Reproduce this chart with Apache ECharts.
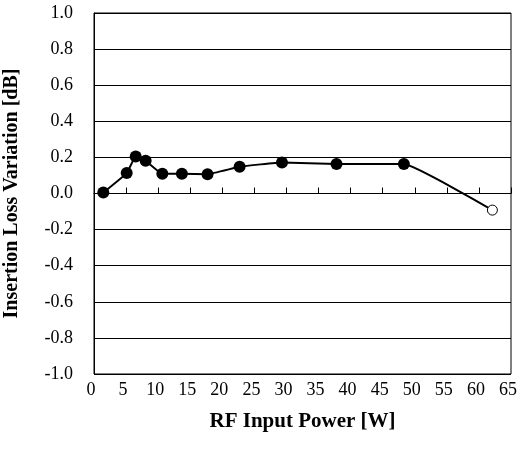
<!DOCTYPE html>
<html>
<head>
<meta charset="utf-8">
<script src="https://cdn.jsdelivr.net/npm/echarts@6/dist/echarts.min.js"></script>
<style>html,body{margin:0;padding:0;background:#fff;}#chart{width:520px;height:450px;}</style>
</head>
<body>
<div id="chart"></div>
<script>
var power = [1.45, 5.1, 6.5, 8.05, 10.65, 13.7, 17.7, 22.7, 29.3, 37.8, 48.3, 62.1];
var variation = [0.005, 0.113, 0.205, 0.181, 0.109, 0.11, 0.107, 0.148, 0.172, 0.163, 0.163, -0.092];
var openIndex = [11];
var xTitle = 'RF Input Power [W]';
var yTitle = 'Insertion Loss Variation [dB]';

var chart = echarts.init(document.getElementById('chart'));
var data = power.map(function (p, i) {
  var item = { value: [p, variation[i]] };
  if (openIndex.indexOf(i) >= 0) {
    item.itemStyle = { color: '#fff', borderColor: '#000', borderWidth: 1 };
    item.symbolSize = 10;
  }
  return item;
});
var font = '"Liberation Serif", "Times New Roman", serif';
chart.setOption({
  animation: false,
  backgroundColor: '#fff',
  grid: { left: 94, right: 9, top: 13, bottom: 76, show: true, borderColor: '#000', borderWidth: 1,
    containLabel: false, outerBoundsMode: 'none' },
  xAxis: {
    type: 'value', min: 0, max: 65, interval: 5,
    name: xTitle, nameLocation: 'middle', nameGap: 37,
    nameTextStyle: { fontFamily: font, fontWeight: 'bold', fontSize: 21, color: '#000' },
    axisLine: { show: true, lineStyle: { color: '#000', width: 1 } },
    axisTick: { show: true, inside: true, length: 6, lineStyle: { color: '#000' } },
    axisLabel: { color: '#000', fontFamily: font, fontSize: 18, margin: 7, padding: [0, 6, 0, 0] },
    splitLine: { show: false }
  },
  yAxis: {
    type: 'value', min: -1, max: 1, interval: 0.2,
    name: yTitle, nameLocation: 'middle', nameGap: 72,
    nameTextStyle: { fontFamily: font, fontWeight: 'bold', fontSize: 20, color: '#000' },
    axisLine: { show: true, lineStyle: { color: '#000', width: 1 } },
    axisTick: { show: false },
    axisLabel: { color: '#000', fontFamily: font, fontSize: 18, margin: 21,
      formatter: function (v) { return v.toFixed(1); } },
    splitLine: { show: true, lineStyle: { color: '#000', width: 1 } }
  },
  series: [{
    type: 'line',
    data: data,
    smooth: 0.1,
    symbol: 'circle',
    symbolSize: 12,
    itemStyle: { color: '#000' },
    lineStyle: { color: '#000', width: 2 }
  }]
});
</script>
</body>
</html>
